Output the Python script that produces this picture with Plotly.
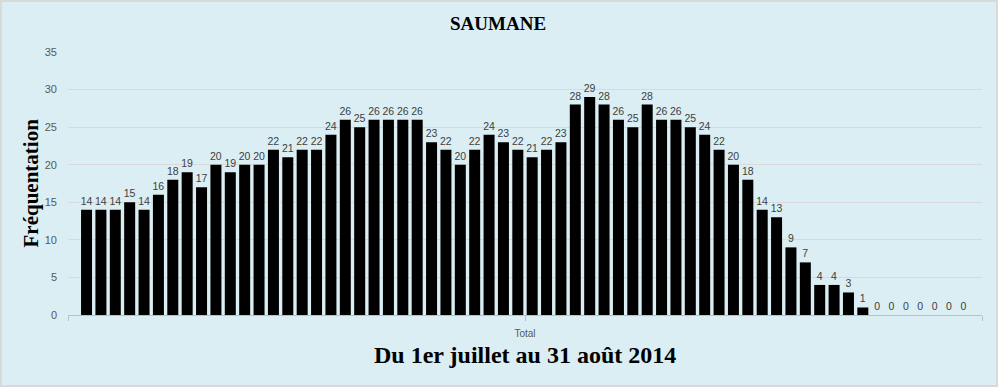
import plotly.graph_objects as go

title = "SAUMANE"
y_title = "Fréquentation"
x_title = "Du 1er juillet au 31 août 2014"
category_label = "Total"

values = [14, 14, 14, 15, 14, 16, 18, 19, 17, 20,
          19, 20, 20, 22, 21, 22, 22, 24, 26, 25,
          26, 26, 26, 26, 23, 22, 20, 22, 24, 23,
          22, 21, 22, 23, 28, 29, 28, 26, 25, 28,
          26, 26, 25, 24, 22, 20, 18, 14, 13, 9,
          7, 4, 4, 3, 1, 0, 0, 0, 0, 0,
          0, 0]
days = list(range(len(values)))
y_ticks = [0, 5, 10, 15, 20, 25, 30, 35]

W, H = 998, 387
L, R, T, B = 68, 16, 52, 72
ph = H - T - B
pad = 1.29

fig = go.Figure(go.Bar(
    x=days, y=values,
    marker=dict(color="black", line=dict(width=0)),
    text=[str(v) for v in values],
    textposition="outside",
    constraintext="none",
    cliponaxis=False,
    textfont=dict(family="Liberation Sans", size=10.5, color="#404040"),
    hoverinfo="skip",
))

n = len(values)
x0, x1 = -pad, n - 1 + pad
fig.update_layout(
    width=W, height=H,
    margin=dict(l=L, r=R, t=T, b=B),
    paper_bgcolor="#DAEEF3",
    plot_bgcolor="#DAEEF3",
    bargap=0.235,
    showlegend=False,
    xaxis=dict(
        range=[x0, x1],
        tickvals=[x0, (n - 1) / 2, x1],
        ticktext=["", category_label, ""],
        ticks="outside", ticklen=5, tickcolor="#BFBFBF",
        ticklabelstandoff=4,
        showgrid=False, zeroline=False,
        showline=True, linecolor="#BFBFBF", linewidth=1,
        tickfont=dict(family="Liberation Sans", size=10, color="#595959"),
    ),
    yaxis=dict(
        range=[0, 35],
        tickvals=y_ticks,
        showgrid=True, gridcolor="#D9D9D9", gridwidth=1,
        zeroline=False, showline=False, ticks="",
        ticklabelstandoff=10,
        tickfont=dict(family="Liberation Sans", size=11, color="#595959"),
    ),
    annotations=[
        dict(text="<b>" + title + "</b>", xref="paper", yref="paper",
             x=(498 - L) / (W - L - R), y=(T + ph - 24) / ph, showarrow=False,
             font=dict(family="Liberation Serif", size=19, color="black"),
             xanchor="center", yanchor="middle"),
        dict(text="<b>" + y_title + "</b>", xref="paper", yref="paper",
             x=(30 - L) / (W - L - R), y=0.5, showarrow=False, textangle=-90,
             font=dict(family="Liberation Serif", size=21, color="black"),
             xanchor="center", yanchor="middle"),
        dict(text="<b>" + x_title + "</b>", xref="paper", yref="paper",
             x=0.5, y=-(355 - (T + ph)) / ph, showarrow=False,
             font=dict(family="Liberation Serif", size=24, color="black"),
             xanchor="center", yanchor="middle"),
    ],
    shapes=[dict(type="rect", xref="paper", yref="paper",
                 x0=-(L - 1) / (W - L - R), x1=1 + (R - 1) / (W - L - R),
                 y0=-(B - 1) / ph, y1=1 + (T - 1) / ph,
                 line=dict(color="#D9D9D9", width=2), fillcolor="rgba(0,0,0,0)",
                 layer="above")],
)

fig.write_html("out.html", config={"displayModeBar": False},
               post_script="document.body.style.margin='0';document.body.style.overflow='hidden';")
